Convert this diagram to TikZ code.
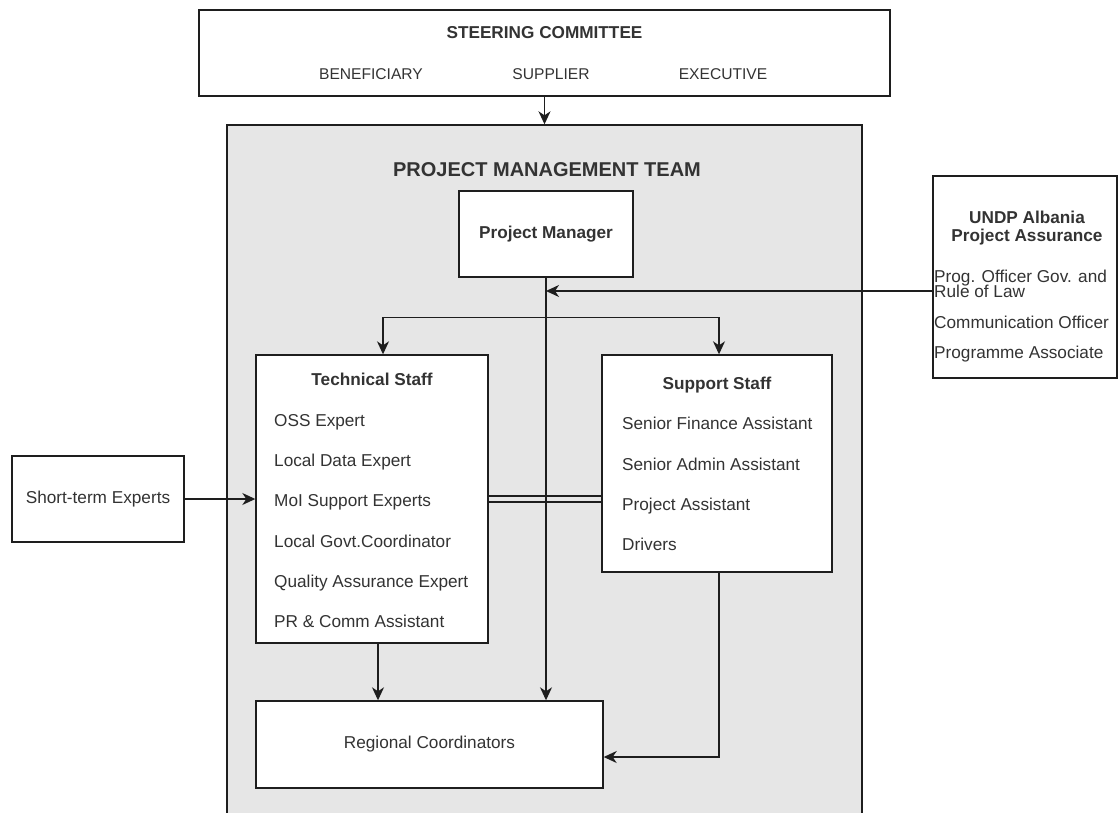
\documentclass[tikz,border=0pt]{standalone}
\usepackage{fontspec}
\setmainfont{Liberation Sans}
\usepackage{tikz}
\usetikzlibrary{arrows.meta, calc, positioning}
\definecolor{pmgrey}{HTML}{E6E6E6}
\definecolor{ink}{HTML}{1E1E1E}
\definecolor{txt}{HTML}{333333}
\newcommand{\bodyfs}{\fontsize{17.2}{20}\selectfont}
\newcommand{\smallfs}{\fontsize{15.6}{18}\selectfont}
\tikzset{
  box/.style  ={draw=ink, fill=white, line width=1.4pt, inner sep=0pt, text=txt, font=\bodyfs},
  grp/.style  ={draw=ink, fill=pmgrey, line width=1.4pt, inner sep=0pt},
  ttl/.style  ={font=\bodyfs\bfseries, text=txt, inner sep=0pt, anchor=base},
  itm/.style  ={font=\bodyfs, text=txt, inner sep=0pt, anchor=base west},
  scitm/.style={font=\smallfs, text=txt, inner sep=0pt, anchor=base},
  arr/.style  ={-{Stealth[length=13pt, width=12pt, inset=4pt]}, line width=1.4pt, draw=ink},
  lnk/.style  ={double=pmgrey, double distance=4.5pt, line width=1.3pt, draw=ink},
}

\begin{document}
\begin{tikzpicture}[x=1pt, y=-1pt]
  \useasboundingbox (0,0) rectangle (1118,813);

  % --- steering committee ---
  \node[box, minimum width=691pt, minimum height=86pt] (sc) at (544.5,53) {};
  \node[ttl]   (sct) at (544.5,39) {STEERING COMMITTEE};
  \node[scitm] (scb) at (371,80)   {BENEFICIARY};
  \node[scitm] (scs) at (551,80)   {SUPPLIER};
  \node[scitm] (sce) at (723,80)   {EXECUTIVE};

  % --- project management team ---
  \node[grp, minimum width=635pt, minimum height=705pt] (pmt) at (544.5,477.5) {};
  \node[ttl, font=\fontsize{20}{24}\selectfont\bfseries] (pmtt) at (547,177) {PROJECT MANAGEMENT TEAM};
  \node[box, font=\bodyfs\bfseries, minimum width=174pt, minimum height=86pt] (pm) at (546,234) {Project Manager};

  % --- technical staff ---
  \node[box, minimum width=232pt, minimum height=288pt] (tech) at (372,499) {};
  \node[ttl] (tech0) at (372,385) {Technical Staff};
  \node[itm] (tech1) at (274,426) {OSS Expert};
  \node[itm] (tech2) at (274,466) {Local Data Expert};
  \node[itm] (tech3) at (274,506) {MoI Support Experts};
  \node[itm] (tech4) at (274,547) {Local Govt.Coordinator};
  \node[itm] (tech5) at (274,587) {Quality Assurance Expert};
  \node[itm] (tech6) at (274,627) {PR \& Comm Assistant};

  % --- support staff ---
  \node[box, minimum width=230pt, minimum height=217pt] (supp) at (717,463.5) {};
  \node[ttl] (supp0) at (717,389) {Support Staff};
  \node[itm] (supp1) at (622,429) {Senior Finance Assistant};
  \node[itm] (supp2) at (622,470) {Senior Admin Assistant};
  \node[itm] (supp3) at (622,510) {Project Assistant};
  \node[itm] (supp4) at (622,550) {Drivers};

  % --- regional coordinators ---
  \node[box, minimum width=347pt, minimum height=87pt] (rc) at (429.5,744.5) {Regional Coordinators};

  % --- short-term experts ---
  \node[box, minimum width=172pt, minimum height=86pt] (ste) at (98,499) {Short-term Experts};

  % --- UNDP assurance ---
  \node[box, minimum width=184pt, minimum height=202pt] (undp) at (1025,277) {};
  \node[ttl] (undp0a) at (1027,223) {UNDP Albania};
  \node[ttl] (undp0b) at (1027,241) {Project Assurance};
  \node[itm] (undp1a) at (934,282)  {Prog. Officer Gov. and};
  \node[itm] (undp1b) at (934,297)  {Rule of Law};
  \node[itm] (undp2)  at (934,328)  {Communication Officer};
  \node[itm] (undp3)  at (934,358)  {Programme Associate};

  % --- connectors ---
  \draw[arr] (sc.south) -- (sc.south |- pmt.north);
  \draw[arr] (pm.south) -- ++(0,40) -| ([xshift=11pt]tech.north);
  \draw[arr] (pm.south) -- ++(0,40) -| ([xshift=2pt]supp.north);
  \draw[lnk] (tech.east) -- (tech.east -| supp.west);
  \draw[arr] (pm.south) -- (pm.south |- rc.north);
  \coordinate (ua) at ([yshift=-14pt]undp.west);
  \draw[arr] (ua) -- (ua -| pm.south);
  \draw[arr] (ste.east) -- (ste.east -| tech.west);
  \coordinate (tb) at ([xshift=6pt]tech.south);
  \draw[arr] (tb) -- (tb |- rc.north);
  \coordinate (sb) at ([xshift=2pt]supp.south);
  \coordinate (re) at ([yshift=-12.5pt]rc.east);
  \draw[arr] (sb) |- (re);
\end{tikzpicture}
\end{document}
